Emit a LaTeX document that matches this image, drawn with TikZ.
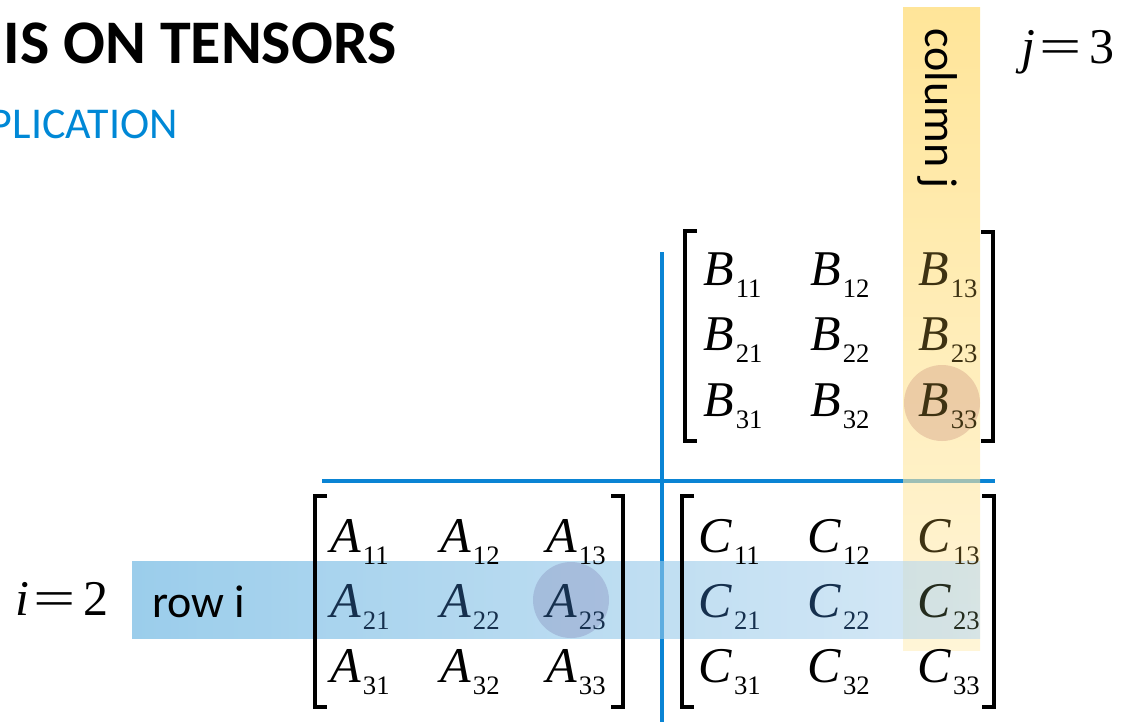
\documentclass[tikz,border=0pt]{standalone}
\usepackage{fontspec}
\usepackage{graphicx}
\setmainfont{Liberation Serif}
\newfontfamily\carlito{Carlito}
\definecolor{lineblue}{RGB}{10,132,212}
\definecolor{subblue}{RGB}{0,136,214}
\definecolor{bandL}{RGB}{88,172,222}
\definecolor{bandR}{RGB}{188,218,240}
\definecolor{yelT}{RGB}{255,212,85}
\definecolor{yelB}{RGB}{255,238,188}
\definecolor{circA}{RGB}{120,120,175}
\definecolor{circB}{RGB}{200,140,120}
\definecolor{rowtxt}{RGB}{22,48,78}
\definecolor{coltxt}{RGB}{62,50,18}
\definecolor{bothtxt}{RGB}{36,44,30}
\newcommand{\entry}[2]{\textit{#1}\kern1.5pt\raisebox{-9pt}{\fontsize{20}{20}\selectfont #2}}
\newcommand{\eqsign}{\kern3pt\scalebox{1.5}[1]{=}\kern6pt}
\begin{document}
\begin{tikzpicture}[x=0.75pt,y=-0.75pt,
  ent/.style={anchor=base west,inner sep=0,font=\fontsize{37.5}{40}\selectfont},
  brk/.style={line width=2.6pt},
  axis/.style={draw=lineblue,line width=2.4pt},
  lbl/.style={inner sep=0,font=\carlito\fontsize{34.5}{36}\selectfont},
  eqn/.style={anchor=base west,inner sep=0,font=\fontsize{37.5}{40}\selectfont}]
\useasboundingbox (0,0) rectangle (1126,722);

% axes
\coordinate (vtop) at (662,252);
\coordinate (vbot) at (662,722);
\coordinate (hl) at (322,481);
\coordinate (hr) at (995,481);
\draw[axis] (vtop) -- (vbot);
\draw[axis] (hl) -- (hr);

% highlight bands
\shade[top color=yelT,bottom color=yelB,fill opacity=0.6] (903,7) rectangle (980,650);
\shade[left color=bandL,right color=bandR,fill opacity=0.6] (132,561) rectangle (980,638);

% circles
\fill[circA,fill opacity=0.3] (571,600) circle[radius=38];
\fill[circB,fill opacity=0.35] (942,403) circle[radius=38];

% brackets
\draw[brk] (697,231) -- (685,231) -- (685,441) -- (697,441);
\draw[brk] (981,232) -- (993,232) -- (993,441) -- (981,441);
\draw[brk] (327,496) -- (315,496) -- (315,707) -- (327,707);
\draw[brk] (611,496) -- (623,496) -- (623,707) -- (611,707);
\draw[brk] (694,496) -- (682,496) -- (682,707) -- (694,707);
\draw[brk] (982,496) -- (994,496) -- (994,707) -- (982,707);

% matrix B
\foreach \r/\y in {1/285,2/350,3/416}{
  \foreach \c/\x/\tc in {1/703/black,2/810/black,3/918/coltxt}{
    \node[ent,text=\tc] (B\r\c) at (\x,\y) {\entry{B}{\r\c}};
  }
}
% matrix A
\foreach \r/\y/\tc in {1/552/black,2/617/rowtxt,3/682/black}{
  \foreach \c/\x in {1/330,2/440,3/546}{
    \node[ent,text=\tc] (A\r\c) at (\x,\y) {\entry{A}{\r\c}};
  }
}
% matrix C
\node[ent] (C11) at (698,552) {\entry{C}{11}};
\node[ent] (C12) at (807,552) {\entry{C}{12}};
\node[ent,text=coltxt] (C13) at (917,552) {\entry{C}{13}};
\node[ent,text=rowtxt] (C21) at (698,617) {\entry{C}{21}};
\node[ent,text=rowtxt] (C22) at (807,617) {\entry{C}{22}};
\node[ent,text=bothtxt] (C23) at (917,617) {\entry{C}{23}};
\node[ent] (C31) at (698,682) {\entry{C}{31}};
\node[ent] (C32) at (807,682) {\entry{C}{32}};
\node[ent] (C33) at (917,682) {\entry{C}{33}};

% labels
\node[lbl,anchor=base west] (rowi) at (152,617) {row i};
\node[lbl,anchor=base west,rotate=-90] (colj) at (925,28) {column j};
\node[eqn] (ieq) at (15,615) {\textit{i}\eqsign 2};
\node[eqn] (jeq) at (1021,63) {\textit{j}\eqsign 3};

% titles
\node[anchor=base east,inner sep=0,font=\carlito\bfseries\fontsize{46.5}{48}\selectfont] (title) at (397,63) {IS ON TENSORS};
\node[anchor=base east,inner sep=0,text=subblue,font=\carlito\fontsize{33}{35}\selectfont] (sub) at (178,138) {PLICATION};
\end{tikzpicture}
\end{document}
